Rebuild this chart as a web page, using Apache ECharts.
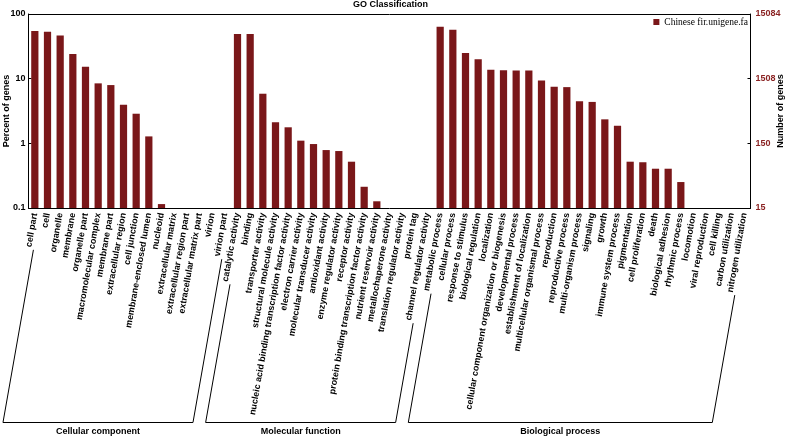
<!DOCTYPE html>
<html><head><meta charset="utf-8">
<script src="https://cdn.jsdelivr.net/npm/echarts@6/dist/echarts.min.js"></script>
<style>html,body{margin:0;padding:0;background:#fff}#c{width:796px;height:438px}</style>
</head><body><div id="c"></div>
<script>
const groupNames = ['Cellular component', 'Molecular function', 'Biological process'];
const ccCategories = ['cell part','cell','organelle','membrane','organelle part','macromolecular complex','membrane part','extracellular region','cell junction','membrane-enclosed lumen','nucleoid','extracellular matrix','extracellular region part','extracellular matrix part','virion','virion part'];
const mfCategories = ['catalytic activity','binding','transporter activity','structural molecule activity','nucleic acid binding transcription factor activity','electron carrier activity','molecular transducer activity','antioxidant activity','enzyme regulator activity','receptor activity','protein binding transcription factor activity','nutrient reservoir activity','metallochaperone activity','translation regulator activity','protein tag','channel regulator activity'];
const bpCategories = ['metabolic process','cellular process','response to stimulus','biological regulation','localization','cellular component organization or biogenesis','developmental process','establishment of localization','multicellular organismal process','reproduction','reproductive process','multi-organism process','signaling','growth','immune system process','pigmentation','cell proliferation','death','biological adhesion','rhythmic process','locomotion','viral reproduction','cell killing','carbon utilization','nitrogen utilization'];
// percent of genes (0 = no visible bar)
const ccValues = [54.4, 53, 46.7, 24, 15.3, 8.46, 7.96, 3.95, 2.87, 1.28, 0.115, 0, 0, 0, 0, 0];
const mfValues = [48.9, 48.9, 5.85, 2.11, 1.77, 1.10, 0.975, 0.787, 0.76, 0.52, 0.213, 0.127, 0, 0, 0, 0];
const bpValues = [63.4, 57, 24.9, 19.9, 13.7, 13.5, 13.4, 13.4, 9.4, 7.5, 7.4, 4.46, 4.37, 2.35, 1.87, 0.52, 0.51, 0.405, 0.405, 0.252, 0, 0, 0, 0, 0];
const leftTickLabels = ['0.1', '1', '10', '100'];
const rightTickLabels = ['15', '150', '1508', '15084'];
const seriesName = 'Chinese fir.unigene.fa';

const categories = ccCategories.concat(mfCategories, bpCategories);
const values = ccValues.concat(mfValues, bpValues).map(v => v > 0 ? v : '-');
const groups = [ccCategories, mfCategories, bpCategories];

const FONT = '"Liberation Sans", Arial, Helvetica, sans-serif';
const BAR = '#7a1719';
const ROT = 80;
const MARGIN = 5;
const chart = echarts.init(document.getElementById('c'), null, {renderer: 'canvas'});
const axisLineStyle = {color: '#000', width: 1};
const boldText = {fontFamily: FONT, fontSize: 9, fontWeight: 'bold', color: '#000'};

const option = {
  animation: false,
  title: {text: 'GO Classification', left: 353, top: 0, padding: 0, textStyle: boldText},
  legend: {data: [seriesName], right: 48, top: 17, padding: 0, icon: 'rect', itemWidth: 6, itemHeight: 6,
    textStyle: {fontFamily: '"Liberation Serif", "Times New Roman", serif', fontSize: 9.5, color: '#000'}},
  grid: {left: 28.5, right: 45.5, top: 14, bottom: 230, containLabel: false, outerBoundsMode: 'none'},
  xAxis: [
    {type: 'category', data: categories, position: 'bottom',
      axisLine: {lineStyle: axisLineStyle},
      axisTick: {inside: true, length: 3, alignWithLabel: true, lineStyle: axisLineStyle},
      axisLabel: Object.assign({interval: 0, rotate: ROT, margin: MARGIN}, boldText)},
    {type: 'category', data: categories, position: 'top',
      axisLine: {lineStyle: axisLineStyle},
      axisTick: {inside: true, length: 3, alignWithLabel: true, lineStyle: axisLineStyle},
      axisLabel: {show: false}}
  ],
  yAxis: [
    {type: 'log', logBase: 10, min: 0.1, max: 100, startValue: 0.1, position: 'left',
      axisLine: {show: true, lineStyle: axisLineStyle},
      axisTick: {show: true, inside: true, length: 3, lineStyle: axisLineStyle},
      splitLine: {show: false},
      axisLabel: Object.assign({margin: 3, formatter: v => leftTickLabels[Math.round(Math.log10(v)) + 1]}, boldText),
      name: 'Percent of genes', nameLocation: 'middle', nameRotate: 90, nameGap: 17.5, nameMoveOverlap: false,
      nameTextStyle: boldText},
    {type: 'value', min: 0, max: 3, interval: 1, position: 'right',
      axisLine: {show: true, lineStyle: axisLineStyle},
      axisTick: {show: true, inside: true, length: 3, lineStyle: axisLineStyle},
      splitLine: {show: false},
      axisLabel: Object.assign({}, boldText, {margin: 5, color: '#8b2323', formatter: v => rightTickLabels[Math.round(v)]}),
      name: 'Number of genes', nameLocation: 'middle', nameRotate: 90, nameGap: 25.5, nameMoveOverlap: false,
      nameTextStyle: boldText}
  ],
  series: [{type: 'bar', name: seriesName, data: values, xAxisIndex: 0, yAxisIndex: 0, barWidth: '57%',
    itemStyle: {color: BAR}}]
};
chart.setOption(option);

// group brackets, derived from axis positions and label lengths
const ctx = document.createElement('canvas').getContext('2d');
ctx.font = 'bold 9px "Liberation Sans", Arial, sans-serif';
const axisY = chart.convertToPixel({yAxisIndex: 0}, 0.1);
const th = ROT * Math.PI / 180;
const dx = -Math.cos(th), dy = Math.sin(th);
const px = Math.sin(th), py = Math.cos(th);
const BOTTOM = 422.5, PERP = 5, GAP = 2;
function ends(cat) {
  const x = chart.convertToPixel({xAxisIndex: 0}, cat);
  const ax = x + PERP * px, ay = axisY + MARGIN + PERP * py;
  const w = ctx.measureText(cat).width + GAP;
  const top = [ax + w * dx, ay + w * dy];
  const t = (BOTTOM - ay) / dy;
  const bot = [ax + t * dx, BOTTOM];
  return [top, bot];
}
const graphics = [];
groups.forEach((g, i) => {
  const a = ends(g[0]), b = ends(g[g.length - 1]);
  graphics.push({type: 'polyline', silent: true, shape: {points: [a[0], a[1], b[1], b[0]]},
    style: {stroke: '#000', fill: null, lineWidth: 1}});
  graphics.push({type: 'text', silent: true, x: (a[1][0] + b[1][0]) / 2, y: BOTTOM + 9.5,
    style: {text: groupNames[i], font: 'bold 9px "Liberation Sans", Arial, sans-serif', fill: '#000',
      align: 'center', verticalAlign: 'middle', textAlign: 'center', textVerticalAlign: 'middle'}});
});
chart.setOption({graphic: graphics});
</script></body></html>
